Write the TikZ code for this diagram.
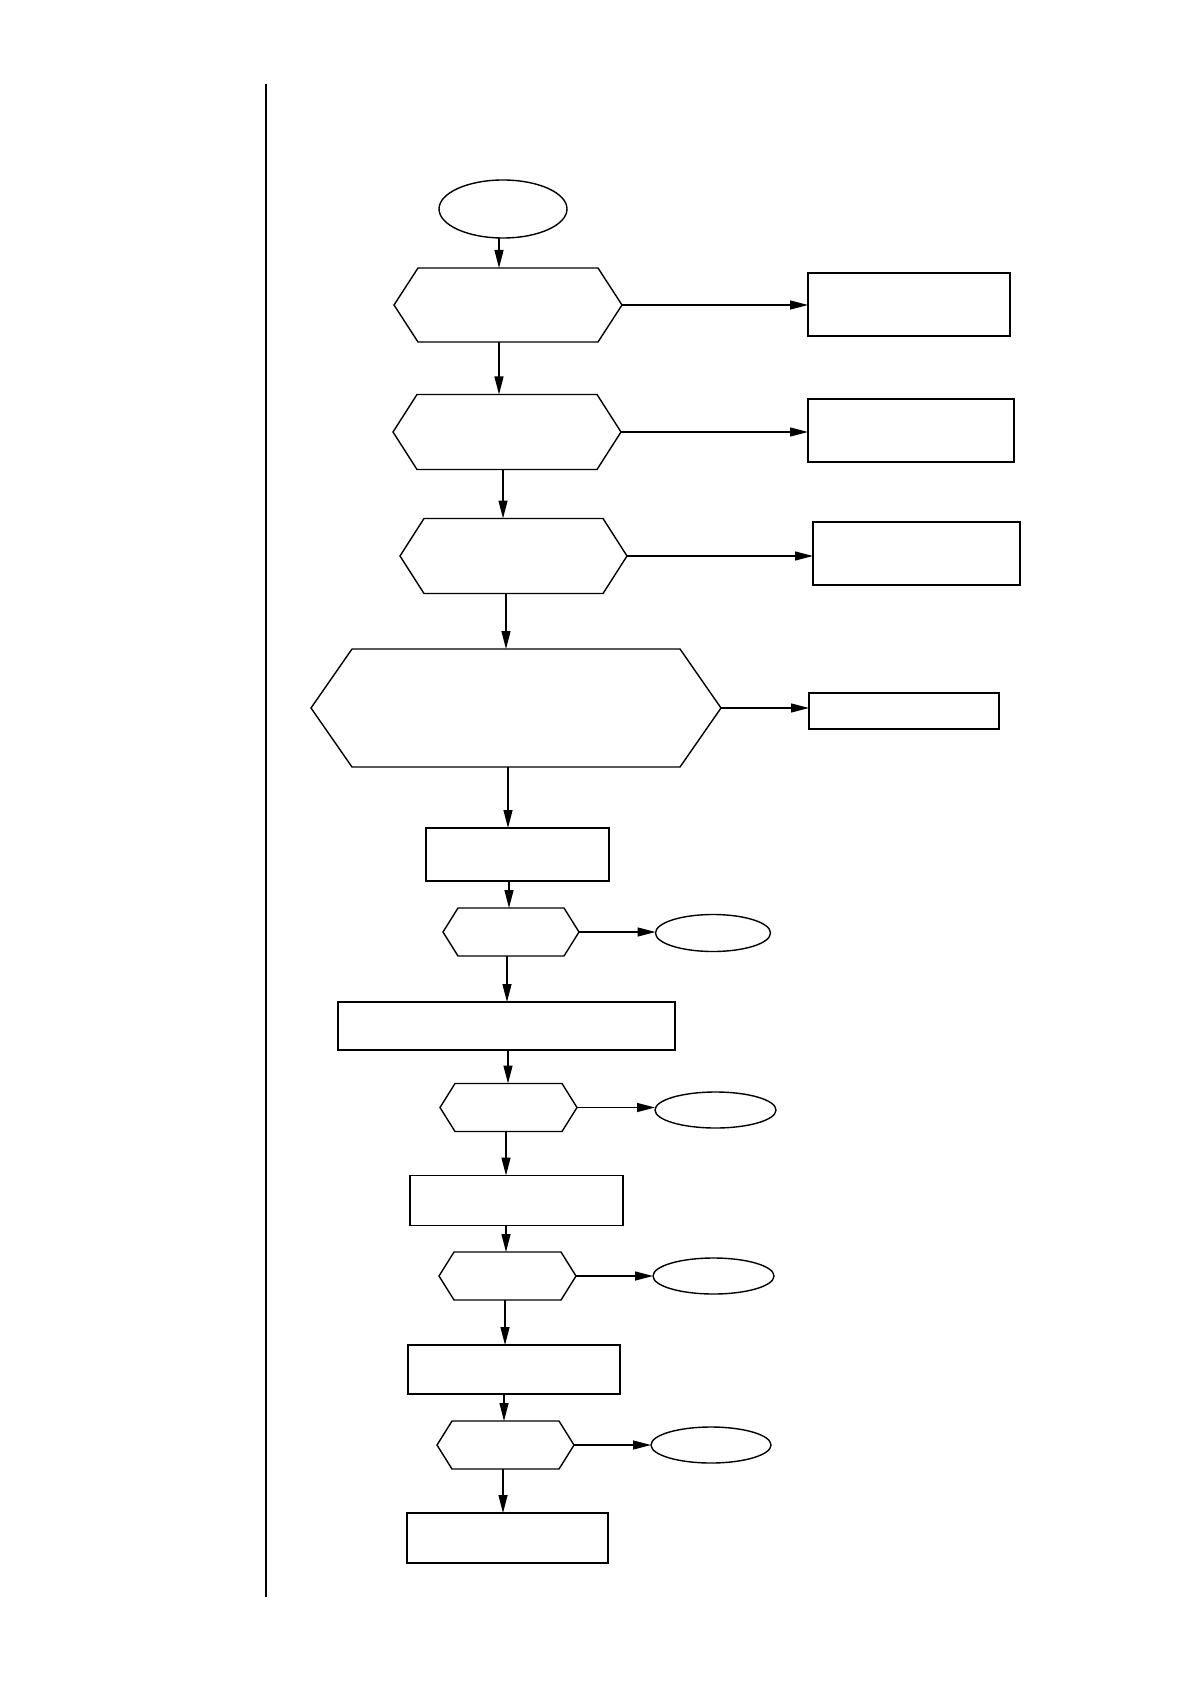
\documentclass[tikz,border=0pt]{standalone}
\usetikzlibrary{arrows.meta,shapes.geometric}
\tikzset{
  box/.style={draw, line width=0.9pt, inner sep=0pt, outer sep=0pt},
  hexa/.style={inner sep=0pt, outer sep=0pt},
  oval/.style={draw, ellipse, line width=0.7pt, inner sep=0pt, outer sep=0pt},
  hexline/.style={line width=0.7pt, line join=miter},
  arr/.style={line width=0.65pt, -{Triangle[length=9pt,width=4.5pt]}}
}
\newcommand\hexpath[2]{\draw[hexline] (#1.west) -- ([xshift=#2]#1.north west) -- ([xshift=-#2]#1.north east) -- (#1.east) -- ([xshift=-#2]#1.south east) -- ([xshift=#2]#1.south west) -- cycle;}
\begin{document}
\begin{tikzpicture}[x=0.5pt,y=-0.5pt]
\useasboundingbox (0,0) rectangle (1190,1684);
\coordinate (rt) at (266,84);
\coordinate (rb) at (266,1597);
\draw[line width=0.7pt] (rt) -- (rb);

\node[oval, minimum width=64pt, minimum height=29pt] (s) at (503,209) {};

\node[hexa, minimum width=114pt, minimum height=37pt] (h1) at (508,305) {};
\hexpath{h1}{12pt}
\node[box, minimum width=101pt, minimum height=31.5pt] (b1) at (909,304.5) {};

\node[hexa, minimum width=114pt, minimum height=37.5pt] (h2) at (507,432) {};
\hexpath{h2}{12pt}
\node[box, minimum width=103pt, minimum height=31.5pt] (b2) at (911,430.5) {};

\node[hexa, minimum width=113.5pt, minimum height=37.5pt] (h3) at (513.5,556) {};
\hexpath{h3}{12pt}
\node[box, minimum width=103.5pt, minimum height=31.5pt] (b3) at (916.5,553.5) {};

\node[hexa, minimum width=205pt, minimum height=59pt] (h4) at (516,708) {};
\hexpath{h4}{20.5pt}
\node[box, minimum width=95pt, minimum height=18pt] (b4) at (904,711) {};

\node[box, minimum width=91.5pt, minimum height=26.5pt] (b5) at (517.5,854.5) {};

\node[hexa, minimum width=68pt, minimum height=24pt] (h5) at (511,932) {};
\hexpath{h5}{7.5pt}
\node[oval, minimum width=57.5pt, minimum height=18.5pt] (e5) at (713,933) {};

\node[box, minimum width=168.5pt, minimum height=24pt] (b6) at (506.5,1026) {};

\node[hexa, minimum width=68.5pt, minimum height=24pt] (h6) at (508.5,1107.5) {};
\hexpath{h6}{7.5pt}
\node[oval, minimum width=60.5pt, minimum height=18pt] (e6) at (715.5,1110) {};

\node[box, minimum width=106.5pt, minimum height=25pt] (b7) at (516.5,1200.5) {};

\node[hexa, minimum width=68.5pt, minimum height=24pt] (h7) at (507.5,1276) {};
\hexpath{h7}{7.5pt}
\node[oval, minimum width=60.5pt, minimum height=18pt] (e7) at (713.5,1276) {};

\node[box, minimum width=106pt, minimum height=24.5pt] (b8) at (514,1369.5) {};

\node[hexa, minimum width=68.5pt, minimum height=24pt] (h8) at (505.5,1445) {};
\hexpath{h8}{7.5pt}
\node[oval, minimum width=60pt, minimum height=18pt] (e8) at (711,1445) {};

\node[box, minimum width=100.5pt, minimum height=25pt] (b9) at (507.5,1538) {};

% vertical connectors
\draw[arr] ([xshift=-2pt]s.south) -- ([xshift=-2pt]s.south |- h1.north);
\draw[arr] ([xshift=-4.5pt]h1.south) -- ([xshift=-4.5pt]h1.south |- h2.north);
\draw[arr] ([xshift=-2pt]h2.south) -- ([xshift=-2pt]h2.south |- h3.north);
\draw[arr] ([xshift=-3.75pt]h3.south) -- ([xshift=-3.75pt]h3.south |- h4.north);
\draw[arr] ([xshift=-4pt]h4.south) -- ([xshift=-4pt]h4.south |- b5.north);
\draw[arr] ([xshift=-4.25pt]b5.south) -- ([xshift=-4.25pt]b5.south |- h5.north);
\draw[arr] ([xshift=-2pt]h5.south) -- ([xshift=-2pt]h5.south |- b6.north);
\draw[arr] ([xshift=0.75pt]b6.south) -- ([xshift=0.75pt]b6.south |- h6.north);
\draw[arr] ([xshift=-1.25pt]h6.south) -- ([xshift=-1.25pt]h6.south |- b7.north);
\draw[arr] ([xshift=-5.25pt]b7.south) -- ([xshift=-5.25pt]b7.south |- h7.north);
\draw[arr] ([xshift=-1.25pt]h7.south) -- ([xshift=-1.25pt]h7.south |- b8.north);
\draw[arr] ([xshift=-5pt]b8.south) -- ([xshift=-5pt]b8.south |- h8.north);
\draw[arr] ([xshift=-1.25pt]h8.south) -- ([xshift=-1.25pt]h8.south |- b9.north);

% horizontal connectors
\draw[arr] (h1.east) -- (h1.east -| b1.west);
\draw[arr] (h2.east) -- (h2.east -| b2.west);
\draw[arr] (h3.east) -- (h3.east -| b3.west);
\draw[arr] (h4.east) -- (h4.east -| b4.west);
\draw[arr] (h5.east) -- (h5.east -| e5.west);
\draw[arr] (h6.east) -- (h6.east -| e6.west);
\draw[arr] (h7.east) -- (h7.east -| e7.west);
\draw[arr] (h8.east) -- (h8.east -| e8.west);
\end{tikzpicture}
\end{document}
